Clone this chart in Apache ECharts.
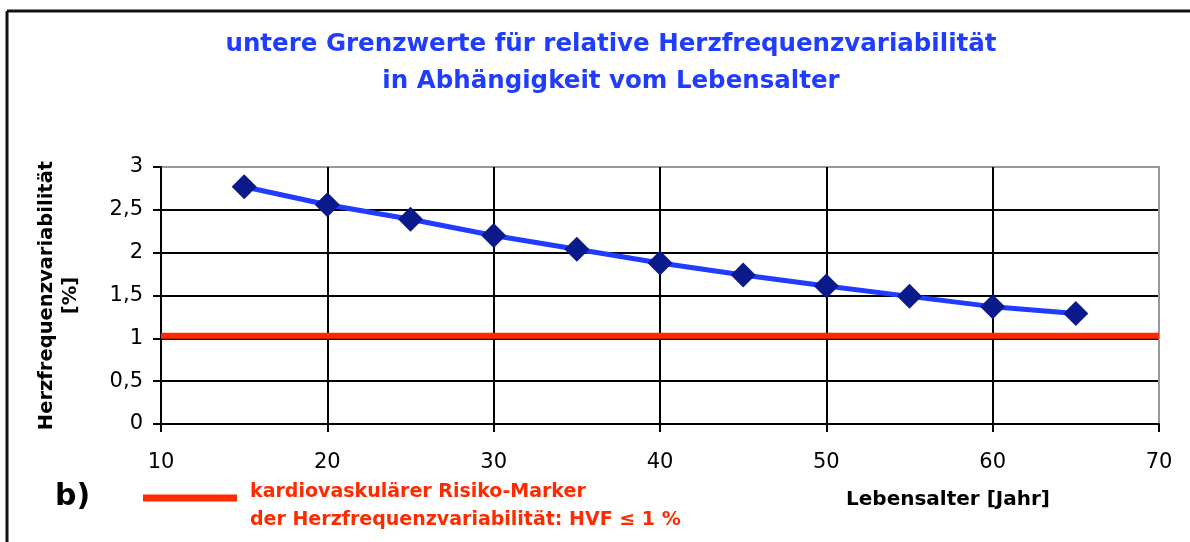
<!DOCTYPE html>
<html>
<head>
<meta charset="utf-8">
<script src="https://cdn.jsdelivr.net/npm/echarts@6/dist/echarts.min.js"></script>
<style>
  html, body { margin: 0; padding: 0; background: #fff; }
  #main { width: 1190px; height: 542px; }
</style>
</head>
<body>
<div id="main"></div>
<script>
// Daten
var alter = [15, 20, 25, 30, 35, 40, 45, 50, 55, 60, 65];
var hrvGrenze = [2.77, 2.56, 2.39, 2.2, 2.04, 1.88, 1.74, 1.61, 1.49, 1.37, 1.29];
var risikoX = [10, 70];
var risikoY = [1.03, 1.03];
var xTicks = [10, 20, 30, 40, 50, 60, 70];
var yTicks = ['0', '0,5', '1', '1,5', '2', '2,5', '3'];

var font = '"DejaVu Sans", sans-serif';
var blau = '#1f3cff';
var rot = '#ff2a00';

function paare(xs, ys) {
    var arr = [];
    for (var i = 0; i < xs.length; i++) {
        arr.push([xs[i], ys[i]]);
    }
    return arr;
}

var myChart = echarts.init(document.getElementById('main'));
var option = {
    backgroundColor: '#fff',
    animation: false,
    title: {
        text: 'untere Grenzwerte für relative Herzfrequenzvariabilität\nin Abhängigkeit vom Lebensalter',
        left: 606,
        top: 21,
        textAlign: 'center',
        textStyle: {
            color: blau,
            fontFamily: font,
            fontWeight: 'bold',
            fontSize: 24.5,
            lineHeight: 37
        }
    },
    grid: {
        left: 161,
        right: 31,
        top: 167,
        bottom: 118,
        show: true,
        borderColor: '#999',
        borderWidth: 2
    },
    xAxis: {
        type: 'value',
        min: 10,
        max: 70,
        interval: 10,
        axisLine: { show: true, onZero: false, lineStyle: { color: '#000', width: 2 } },
        axisTick: { show: true, length: 8, lineStyle: { color: '#000', width: 2 } },
        splitLine: {
            show: true,
            lineStyle: { color: ['#000', '#000', '#000', '#000', '#000', '#000', '#999'], width: 2 }
        },
        axisLabel: {
            color: '#000',
            fontFamily: font,
            fontSize: 21,
            margin: 28,
            formatter: function (v) {
                return xTicks.indexOf(v) >= 0 ? String(v) : '';
            }
        }
    },
    yAxis: {
        type: 'value',
        min: 0,
        max: 3,
        interval: 0.5,
        name: 'Herzfrequenzvariabilität\n[%]',
        nameLocation: 'middle',
        nameGap: 78,
        nameRotate: 90,
        nameTextStyle: {
            color: '#000',
            fontFamily: font,
            fontWeight: 'bold',
            fontSize: 19.5,
            lineHeight: 24
        },
        axisLine: { show: true, lineStyle: { color: '#000', width: 2 } },
        axisTick: { show: true, length: 8, lineStyle: { color: '#000', width: 2 } },
        splitLine: {
            show: true,
            lineStyle: { color: ['#000', '#000', '#000', '#000', '#000', '#000', '#999'], width: 2 }
        },
        axisLabel: {
            color: '#000',
            fontFamily: font,
            fontSize: 21,
            margin: 18,
            formatter: function (v) {
                return yTicks[Math.round(v * 2)];
            }
        }
    },
    series: [{
        type: 'line',
        data: paare(risikoX, risikoY),
        showSymbol: false,
        lineStyle: { color: rot, width: 6 },
        z: 3
    }, {
        type: 'line',
        data: paare(alter, hrvGrenze),
        symbol: 'diamond',
        symbolSize: 25,
        lineStyle: { color: blau, width: 5 },
        itemStyle: { color: '#0a1a8a' },
        z: 4
    }],
    graphic: [
        // Rahmen oben und links
        { type: 'line', shape: { x1: 7, y1: 11, x2: 1190, y2: 11 }, style: { stroke: '#111', lineWidth: 3 } },
        { type: 'line', shape: { x1: 7, y1: 11, x2: 7, y2: 542 }, style: { stroke: '#111', lineWidth: 3 } },
        // b)
        { type: 'text', left: 55, top: 482, style: { text: 'b)', fill: '#000', font: 'bold 30px ' + font } },
        // Legende rot
        { type: 'line', shape: { x1: 143, y1: 498, x2: 237, y2: 498 }, style: { stroke: rot, lineWidth: 7 } },
        { type: 'text', left: 250, top: 483, style: { text: 'kardiovaskulärer Risiko-Marker', fill: rot, font: 'bold 19px ' + font } },
        { type: 'text', left: 250, top: 511, style: { text: 'der Herzfrequenzvariabilität: HVF ≤ 1 %', fill: rot, font: 'bold 19px ' + font } },
        // x-Achsentitel
        { type: 'text', left: 846, top: 490, style: { text: 'Lebensalter [Jahr]', fill: '#000', font: 'bold 20px ' + font } }
    ]
};
myChart.setOption(option);
</script>
</body>
</html>
